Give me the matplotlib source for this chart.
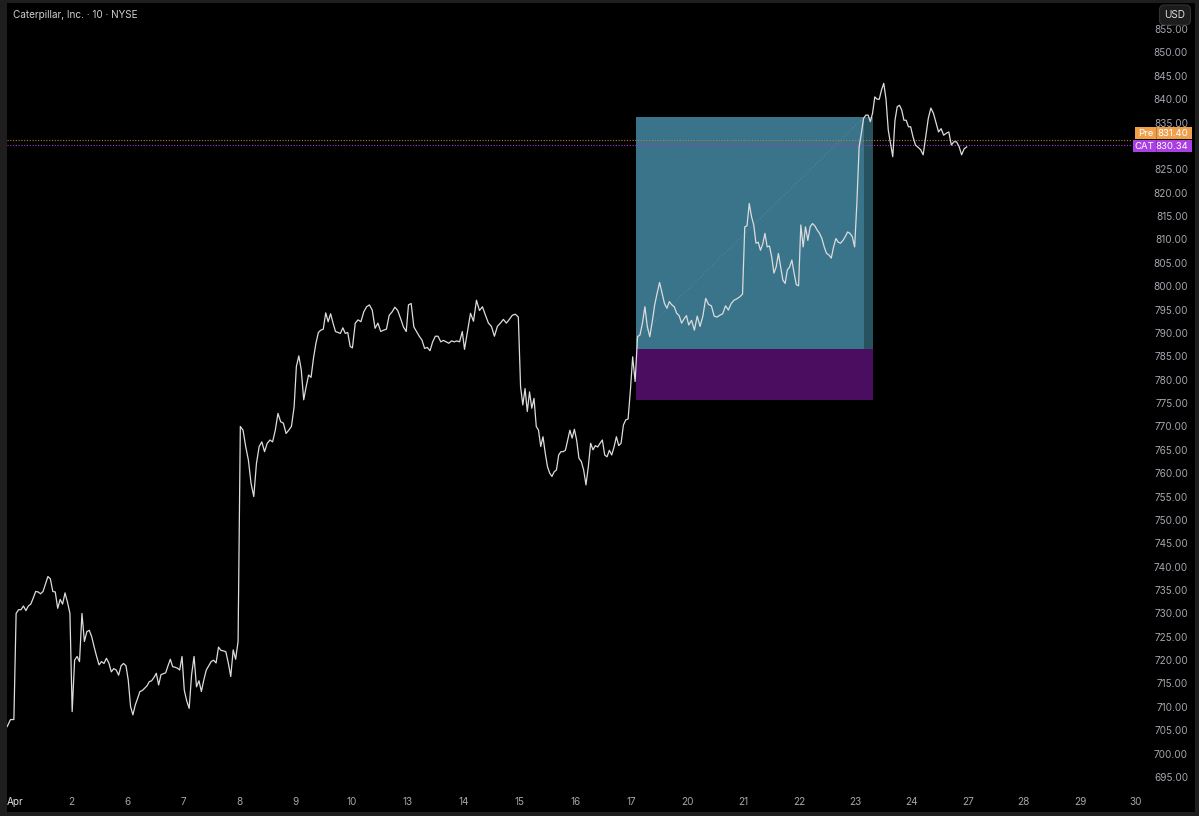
import numpy as np
import matplotlib.pyplot as plt
from matplotlib.patches import Rectangle
from matplotlib.transforms import blended_transform_factory

plt.rcParams['font.family'] = ['Inter', 'DejaVu Sans']

title = "Caterpillar, Inc. · 10 · NYSE"
day_labels = ['Apr', '2', '6', '7', '8', '9', '10', '13', '14', '15', '16',
              '17', '20', '21', '22', '23', '24', '27', '28', '29', '30']

# tail of the previous session, then one list of 10-min closes per trading day
prev_session = [706.0, 707.5, 707.5]
day_prices = [
    [730.2, 731.0, 731.0, 731.8, 730.8, 731.8, 732.2, 733.5, 734.9, 734.8, 734.4, 734.9,
     736.5, 738.1, 737.6, 734.9, 734.8, 731.3, 733.2, 732.2, 734.6, 732.6, 730.2],
    [709.2, 720.2, 721.0, 719.9, 730.2, 724.2, 726.3, 726.6, 725.2, 723.0, 721.0, 719.2,
     719.9, 719.5, 720.6, 719.6, 717.7, 718.4, 718.1, 717.0, 719.0, 719.5, 719.0],
    [716.0, 710.3, 708.5, 710.6, 712.0, 713.5, 713.7, 714.2, 714.7, 715.6, 715.8, 716.5,
     717.4, 714.9, 717.1, 717.3, 717.5, 719.0, 720.4, 718.8, 718.7, 718.5, 718.1, 721.0],
    [713.8, 711.5, 709.9, 717.1, 721.0, 714.5, 715.8, 713.5, 716.0, 718.1, 719.0, 719.9,
     720.2, 719.6, 723.0, 722.3, 722.2, 722.0, 719.6, 716.7, 722.4, 720.4, 724.2],
    [770.2, 769.4, 765.9, 763.0, 758.0, 755.2, 762.3, 765.9, 766.9, 764.8, 766.6, 767.3,
     766.9, 769.4, 773.0, 771.2, 770.9, 768.7, 769.4, 770.2, 774.4],
    [783.0, 785.3, 782.3, 775.9, 778.7, 781.2, 780.7, 784.8, 788.0, 790.3, 790.8, 791.0,
     794.5, 792.6, 794.3, 792.3, 790.5, 790.3, 790.1, 791.3, 790.1, 790.3, 787.3],
    [787.0, 792.3, 793.0, 792.6, 794.7, 795.8, 796.2, 795.1, 791.2, 792.3, 790.5, 790.8,
     791.0, 794.0, 794.7, 795.7, 795.0, 793.3, 791.5, 790.5],
    [796.2, 796.5, 791.5, 790.5, 789.5, 788.7, 786.9, 787.1, 786.4, 788.3, 789.5, 789.5,
     788.3, 788.6, 788.3, 788.0, 788.5, 788.3, 788.5, 788.3, 790.5],
    [786.7, 790.5, 794.4, 792.7, 797.2, 795.0, 795.8, 794.0, 792.3, 791.6, 789.5, 791.6,
     792.3, 793.1, 792.3, 793.1, 794.0, 794.2, 793.6],
    [778.7, 774.8, 778.3, 773.4, 777.6, 774.1, 776.2, 770.2, 769.4, 765.9, 768.0, 764.5,
     761.6, 760.2, 759.5, 760.5, 760.9, 764.1, 764.8, 764.8, 765.1, 767.3, 769.4, 767.7, 769.6],
    [767.3, 763.4, 762.7, 760.9, 757.7, 761.6, 766.6, 765.2, 766.1, 765.8, 766.6, 767.3,
     764.1, 763.7, 765.1, 764.1, 765.8, 768.0, 766.1, 766.6, 770.5, 771.6, 771.8, 778.0],
    [785.1, 779.8, 789.4, 789.8, 792.3, 795.8, 791.5, 789.4, 792.6, 796.2, 798.7, 801.0,
     798.7, 796.5, 795.5, 796.9, 796.2, 795.8, 794.4, 793.9, 792.3, 793.2, 793.9],
    [791.9, 792.9, 790.8, 793.8, 791.6, 793.8, 797.6, 796.3, 796.0, 793.8, 793.6, 794.0,
     794.3, 796.0, 795.1, 796.5, 797.2, 797.5, 797.9, 798.5],
    [812.9, 813.1, 817.9, 815.1, 813.3, 809.4, 809.6, 807.9, 809.2, 811.5, 808.6, 808.8,
     806.5, 803.0, 804.3, 807.2, 804.3, 801.5, 800.8, 803.7, 804.3, 805.8, 803.0, 800.5, 800.3],
    [813.3, 808.6, 812.9, 810.0, 812.9, 813.6, 813.1, 812.2, 811.5, 810.4, 808.6, 807.2,
     806.9, 806.2, 808.6, 810.4, 809.6, 809.4, 810.0, 810.8, 811.8, 811.5, 810.8, 808.6],
    [817.9, 830.0, 832.9, 836.1, 836.8, 836.8, 835.4, 837.2, 840.7, 840.2, 840.2, 842.2,
     843.6, 840.2, 833.6, 830.8, 827.9, 835.7, 838.6, 838.9, 837.9, 835.7, 835.7, 834.3, 834.3],
    [832.2, 830.4, 829.9, 829.4, 828.3, 832.2, 836.1, 838.3, 837.2, 835.2, 833.2, 833.9,
     832.5, 832.9, 833.2, 830.4, 831.1, 831.1, 830.1, 828.3, 829.6, 830.0],
]

pre_price = 831.40
last_price = 830.34

# long position tool
entry_day, hit_day, end_day = 11.08, 15.15, 15.31
entry_price, target_price, stop_price = 786.8, 836.4, 775.9
entry_close = 788.7

# build the series on a trading-day axis
xs = list(np.linspace(-0.14, -0.02, len(prev_session)))
ys = list(prev_session)
for d, prices in enumerate(day_prices):
    xs += list(np.linspace(d + 0.02, d + 0.98, len(prices)))
    ys += prices

FS = 7.2
W, H = 1199, 816
fig = plt.figure(figsize=(W / 100, H / 100), dpi=100, facecolor='#1e1e1e')
fig.add_artist(Rectangle((7 / W, 4 / H), 1188 / W, 809 / H, transform=fig.transFigure,
                         facecolor='black', edgecolor='none', zorder=0))
ax = fig.add_axes([7 / W, 28 / H, 1186 / W, 785 / H], facecolor='black')
for s in ax.spines.values():
    s.set_visible(False)

ax.set_xlim(-0.1427, 21.017)
ax.set_ylim(692.86, 860.78)

# position boxes
ax.add_patch(Rectangle((entry_day, entry_price), end_day - entry_day, target_price - entry_price,
                       facecolor='#3a748a', edgecolor='none', zorder=1))
ax.add_patch(Rectangle((hit_day, entry_price), end_day - hit_day, target_price - entry_price,
                       facecolor='#27525f', edgecolor='none', zorder=1.1))
ax.add_patch(Rectangle((entry_day, stop_price), end_day - entry_day, entry_price - stop_price,
                       facecolor='#4a0d5f', edgecolor='none', zorder=1))
ax.plot([entry_day, hit_day], [entry_close, target_price], ls=(0, (1, 2)),
        color='#6e8e99', lw=0.8, alpha=0.6, zorder=2)

# price lines
ax.axhline(pre_price, xmax=0.9486, color='#c47a30', ls=(0, (1, 1.5)), lw=0.8, zorder=2)
ax.axhline(last_price, xmax=0.9486, color='#9b3ccc', ls=(0, (1, 1.5)), lw=0.8, zorder=2)

ax.plot(xs, ys, color='#dcdcdc', lw=0.9, zorder=3)

# right price scale
blend = blended_transform_factory(ax.transAxes, ax.transData)
for p in np.arange(695, 856, 5):
    ax.text(0.9958, p, f"{p:.2f}", transform=blend, ha='right', va='center',
            fontsize=FS, color='#a3a6ad', zorder=4)

# price labels
def price_tag(y, name, value, color, x0):
    h = 2.55
    ax.add_patch(Rectangle((x0, y - h / 2), 0.9989 - x0, h, transform=blend,
                           facecolor=color, edgecolor='none', zorder=5))
    ax.plot([0.9685, 0.9685], [y - h / 2, y + h / 2], transform=blend,
            color='#00000040', lw=0.6, zorder=6)
    ax.text((x0 + 0.9685) / 2, y, name, transform=blend, ha='center', va='center',
            fontsize=FS - 0.3, color='white', zorder=6)
    ax.text(0.9962, y, f"{value:.2f}", transform=blend, ha='right',
            va='center', fontsize=FS - 0.3, color='white', zorder=6)

price_tag(pre_price + 1.5, 'Pre', pre_price, '#f0a04b', 0.9511)
price_tag(last_price - 0.15, 'CAT', last_price, '#aa3fe3', 0.9492)

# time axis
ax.set_yticks([])
ax.set_xticks(range(len(day_labels)))
ax.set_xticklabels(day_labels)
ax.tick_params(axis='x', length=0, pad=6.5, labelsize=FS, labelcolor='#a3a6ad')
ax.get_xticklabels()[0].set_color('#e0e0e0')

fig.text(13 / W, 1 - 15 / H, title, ha='left', va='center', fontsize=FS, color='#cfcfcf')
fig.text(1175 / W, 1 - 15 / H, 'USD', ha='center', va='center', fontsize=FS, color='#dddddd',
         bbox=dict(boxstyle='round,pad=0.5', fc='#1c1c1c', ec='#333333', lw=0.8))

fig.savefig('out.png', dpi=100, facecolor=fig.get_facecolor())
